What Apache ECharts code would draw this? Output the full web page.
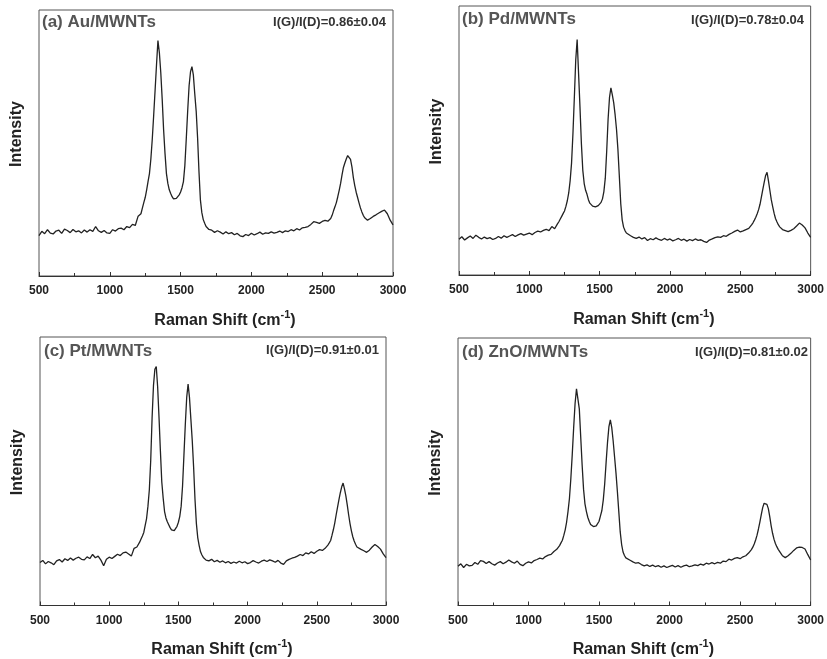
<!DOCTYPE html>
<html>
<head>
<meta charset="utf-8">
<script src="https://cdn.jsdelivr.net/npm/echarts@6/dist/echarts.min.js"></script>
<style>
html,body{margin:0;padding:0;background:#fff;}
#chart{width:827px;height:659px;}
</style>
</head>
<body>
<div id="chart"></div>
<script>
// Raman shift grid (cm^-1)
const shift = [
 500,520,540,560,580,600,620,640,660,680,700,720,740,760,780,800,820,840,860,880,900,920,940,960,980,1000,1020,1040,1060,1080,1100,1120,1140,1160,1180,1200,
 1210,1220,1230,1240,1250,1260,1270,1280,1290,1300,1310,1320,1330,1340,1350,1360,1370,1380,1390,1400,1410,1420,1430,1440,1450,1460,1470,1480,1490,1500,1510,1520,1530,1540,1550,1560,1570,1580,1590,1600,1610,1620,1630,1640,1650,1660,1670,1680,1690,1700,
 1720,1740,1760,1780,1800,1820,1840,1860,1880,1900,1920,1940,1960,1980,2000,2020,2040,2060,2080,2100,2120,2140,2160,2180,2200,2220,2240,2260,2280,2300,2320,2340,2360,2380,2400,2420,2440,2460,2480,2500,2520,2540,2560,
 2570,2580,2590,2600,2610,2620,2630,2640,2650,2660,2670,2680,2690,2700,2710,2720,2730,2740,2750,2760,2770,2780,2790,2800,
 2820,2840,2860,2880,2900,2920,2940,2960,2980,3000
];

// Intensity (a.u., 0 = bottom of frame, 100 = top of frame)
const intAu = [
 15.2,16.8,15.9,17.4,16.1,15.8,16.9,17.2,16.0,17.6,17.1,16.3,17.5,16.6,17.0,16.2,17.3,16.5,17.4,16.8,18.6,17.0,16.4,17.1,16.2,16.0,17.4,16.9,17.8,18.0,17.4,18.6,18.2,19.4,19.0,22.5,
 22.0,23.4,25.5,27.6,29.5,32.3,35.5,38.5,44.0,51.5,60.5,69.9,79.5,88.5,84.0,76.5,66.5,55.0,46.0,38.5,34.8,32.4,31.0,29.8,29.0,28.8,29.2,29.6,30.5,31.6,33.2,35.5,41.5,51.5,62.0,71.5,76.8,78.7,75.6,68.5,62.0,52.0,39.0,28.5,23.8,21.2,19.8,18.6,17.9,17.5,
 17.2,16.4,17.0,16.5,15.8,16.6,15.9,16.3,15.5,16.0,15.1,14.8,15.6,15.2,16.1,15.4,15.9,16.5,15.7,16.2,16.0,16.6,16.1,16.4,16.9,16.3,17.0,16.7,17.4,17.0,17.8,17.3,18.1,18.3,18.6,19.4,20.4,20.2,19.8,20.5,20.9,20.6,21.6,
 22.8,24.5,26.0,27.6,29.8,32.2,34.8,38.0,40.8,42.5,44.0,45.3,46.0,43.8,41.0,37.0,34.0,31.5,29.5,27.5,25.6,24.1,22.8,21.9,
 21.0,21.6,22.4,23.0,23.7,24.3,24.8,23.4,21.0,19.2
];
const intPd = [
 13.3,14.2,13.0,13.8,14.5,13.6,14.8,14.0,13.4,14.1,13.5,13.9,13.2,13.6,14.3,13.7,14.6,14.0,14.5,15.0,14.3,14.9,15.4,14.8,15.2,15.6,15.0,15.8,16.3,16.0,16.6,17.0,16.5,18.0,17.2,19.0,
 19.8,20.8,21.8,22.8,23.8,25.5,27.6,30.5,35.0,41.5,52.5,66.0,80.0,87.5,75.0,62.5,49.0,39.0,34.0,31.5,30.0,28.0,26.7,26.0,25.6,25.2,25.3,25.5,25.8,26.0,27.0,28.3,31.0,36.0,46.0,58.0,66.0,69.6,67.0,64.0,59.5,54.0,46.5,36.5,26.5,20.5,17.8,16.5,15.6,15.0,
 14.6,14.0,13.6,14.1,13.4,13.9,12.8,13.5,13.1,13.8,13.2,12.9,13.6,13.0,13.4,12.7,13.1,13.6,12.9,13.3,12.6,13.2,12.8,13.4,12.9,13.1,12.5,12.1,13.0,13.4,13.9,14.2,14.0,14.6,14.4,15.1,15.6,16.2,16.7,16.0,16.4,16.9,17.3,
 17.8,18.6,19.4,20.4,21.5,22.8,24.3,26.3,29.0,31.8,34.5,37.0,38.2,35.0,31.5,28.0,25.4,23.0,21.0,19.8,18.7,17.9,17.3,16.9,
 16.5,16.1,16.6,17.2,18.2,19.3,18.6,17.5,15.6,14.0
];
const intPt = [
 16.0,16.8,15.5,16.4,15.9,15.2,16.6,17.1,16.2,17.4,16.8,17.7,16.9,17.6,18.0,17.2,17.0,18.1,17.5,19.0,17.8,18.4,16.9,14.8,17.2,18.0,17.5,18.3,19.1,18.6,19.6,19.9,19.2,18.4,21.3,21.8,
 22.4,23.6,24.8,25.9,27.2,29.8,32.4,37.0,43.1,54.0,70.0,82.0,88.0,89.0,81.5,70.0,57.5,46.0,40.0,35.0,32.6,31.2,30.1,29.0,28.2,27.6,27.9,28.6,29.5,31.0,33.2,37.0,44.5,56.0,67.5,77.5,82.5,77.5,69.5,61.5,51.5,39.5,30.5,25.2,22.3,20.0,18.8,17.9,17.2,16.9,
 16.6,17.2,16.3,16.8,16.1,16.6,15.9,16.4,15.7,16.2,15.8,16.5,15.9,16.3,15.6,16.0,16.7,16.2,15.8,16.5,16.9,16.4,17.0,16.6,16.1,16.8,15.8,15.3,16.6,17.2,17.6,17.9,18.4,19.0,18.6,19.6,19.2,20.0,19.4,20.2,20.8,20.5,21.3,
 21.8,22.5,23.3,24.2,26.2,28.3,30.8,33.8,36.6,39.4,42.0,44.2,45.6,43.4,40.8,37.5,33.8,30.5,27.8,25.6,24.0,22.8,21.8,21.2,
 20.9,20.4,19.8,20.6,21.8,22.7,22.0,21.0,19.2,17.8
];
const intZnO = [
 14.7,15.6,14.2,15.4,14.8,15.0,16.1,15.4,16.8,16.5,15.7,16.4,15.6,15.1,15.9,16.4,15.6,16.2,17.0,16.3,15.8,16.6,15.4,14.9,15.8,16.3,15.9,16.8,17.2,17.7,17.4,18.3,18.8,19.1,20.2,21.0,
 21.7,22.4,23.4,24.4,26.2,28.3,31.2,35.2,40.0,47.5,56.5,66.5,75.5,81.0,80.5,73.5,63.0,52.5,43.5,38.0,35.2,33.0,31.5,30.3,29.8,29.5,29.4,29.8,30.5,31.5,33.5,35.5,39.5,45.5,53.5,61.0,66.9,69.4,66.5,61.5,55.5,49.5,42.5,35.0,27.5,22.8,20.0,18.7,17.8,17.2,
 16.9,16.3,15.8,16.0,15.3,14.8,15.2,14.6,15.1,14.5,14.9,14.3,14.8,14.2,14.6,15.0,14.4,14.9,14.3,14.8,15.1,14.5,14.8,15.2,14.9,15.5,15.1,15.8,15.5,16.0,15.6,16.1,15.8,16.6,16.4,17.3,17.0,17.6,17.9,17.5,18.2,18.6,19.6,
 20.2,20.9,21.8,23.0,24.5,26.3,28.6,31.2,34.0,36.6,38.2,38.6,37.8,36.2,33.2,29.8,27.0,24.8,23.2,22.0,21.0,20.3,19.4,18.6,
 17.9,18.6,19.5,20.6,21.5,21.8,21.7,21.1,19.0,17.0
];

const sampleLabels = ['(a) Au/MWNTs', '(b) Pd/MWNTs', '(c) Pt/MWNTs', '(d) ZnO/MWNTs'];
const ratioLabels = ['I(G)/I(D)=0.86±0.04', 'I(G)/I(D)=0.78±0.04', 'I(G)/I(D)=0.91±0.01', 'I(G)/I(D)=0.81±0.02'];
const xTicks = [500, 1000, 1500, 2000, 2500, 3000];
const xTitle = 'Raman Shift (cm{sup|-1})';
const yTitle = 'Intensity';

const seriesData = [intAu, intPd, intPt, intZnO];

const FONT = '"Liberation Sans", Arial, sans-serif';
const grids = [
  {left: 39, top: 10, width: 354, height: 266},
  {left: 459, top: 6, width: 352, height: 269},
  {left: 40, top: 337, width: 346, height: 269},
  {left: 458, top: 338, width: 355, height: 268}
];
const labelPos = [
  {s: {left: 42, top: 14}, r: {right: 827 - 386, top: 16}},
  {s: {left: 462, top: 11}, r: {right: 827 - 804, top: 14}},
  {s: {left: 44, top: 343}, r: {right: 827 - 379, top: 344}},
  {s: {left: 462, top: 344}, r: {right: 827 - 808, top: 346}}
];

const option = {
  animation: false,
  backgroundColor: '#fff',
  grid: grids.map(g => Object.assign({show: true, borderColor: '#555', borderWidth: 1, backgroundColor: 'transparent'}, g)),
  title: [].concat(...sampleLabels.map((t, i) => [
    Object.assign({text: t, textStyle: {fontFamily: FONT, fontSize: 17, fontWeight: 'bold', color: '#555'}, padding: 0}, labelPos[i].s),
    Object.assign({text: ratioLabels[i], textStyle: {fontFamily: FONT, fontSize: 13, fontWeight: 'bold', color: '#333'}, padding: 0}, labelPos[i].r)
  ])),
  xAxis: grids.map((g, i) => ({
    type: 'value', gridIndex: i, min: xTicks[0], max: xTicks[xTicks.length - 1], interval: 500,
    name: xTitle, nameLocation: 'middle', nameGap: 33,
    nameTextStyle: {fontFamily: FONT, fontSize: 16, fontWeight: 'bold', color: '#222', padding: [0, 0, 0, 18],
      rich: {sup: {fontFamily: FONT, fontSize: 11, fontWeight: 'bold', color: '#222', padding: [0, 0, 12, 0]}}},
    axisLine: {show: true, lineStyle: {color: '#333', width: 1}},
    axisTick: {show: true, inside: true, length: 4, lineStyle: {color: '#333'}},
    minorTick: {show: true, splitNumber: 2, length: 3, lineStyle: {color: '#333'}},
    axisLabel: {fontFamily: FONT, fontSize: 12, fontWeight: 'bold', color: '#222', margin: 9,
      formatter: v => String(v)},
    splitLine: {show: false}
  })),
  yAxis: grids.map((g, i) => ({
    type: 'value', gridIndex: i, min: 0, max: 100,
    name: yTitle, nameLocation: 'middle', nameGap: 14, nameRotate: 90,
    nameTextStyle: {fontFamily: FONT, fontSize: 16, fontWeight: 'bold', color: '#222', padding: [0, 0, 0, 18]},
    axisLine: {show: false}, axisTick: {show: false}, axisLabel: {show: false}, splitLine: {show: false}
  })),
  series: seriesData.map((arr, i) => ({
    type: 'line', xAxisIndex: i, yAxisIndex: i, showSymbol: false, symbol: 'none',
    lineStyle: {color: '#222', width: 1.3}, silent: true,
    data: shift.map((x, k) => [x, arr[k]])
  }))
};

const chart = echarts.init(document.getElementById('chart'), null, {renderer: 'canvas'});
chart.setOption(option);
</script>
</body>
</html>
